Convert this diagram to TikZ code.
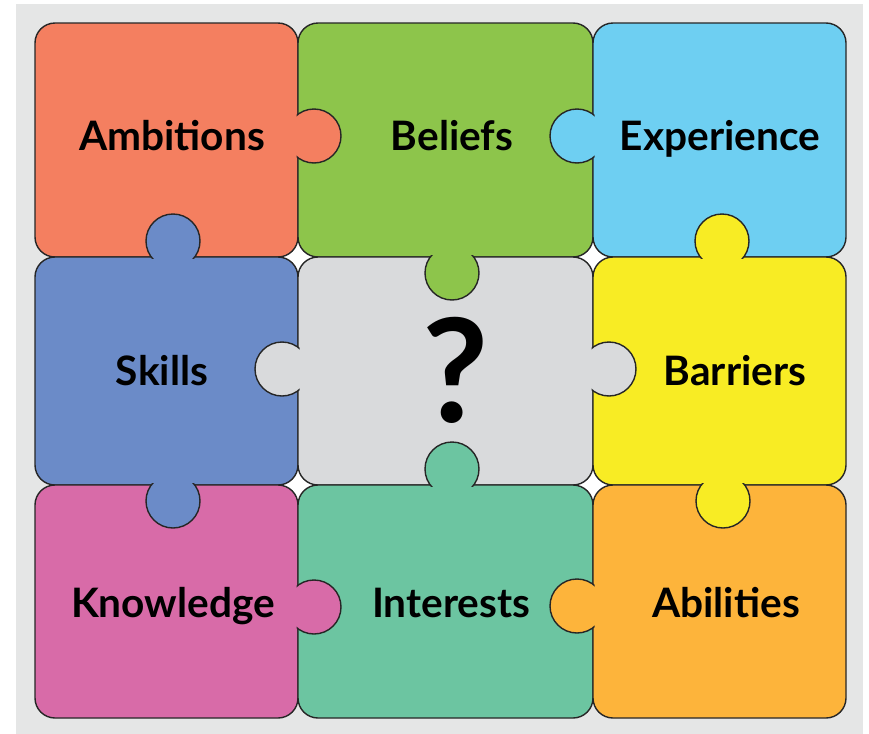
\documentclass[tikz,border=0pt]{standalone}
\usepackage{fontspec}
\setmainfont{Lato}
\definecolor{bggray}{HTML}{E5E6E6}
\definecolor{ambcol}{HTML}{F47F60}
\definecolor{belcol}{HTML}{8DC54B}
\definecolor{expcol}{HTML}{6ECFF2}
\definecolor{skicol}{HTML}{6B8BC8}
\definecolor{quecol}{HTML}{D9DADC}
\definecolor{barcol}{HTML}{F8EC24}
\definecolor{knocol}{HTML}{D86BA8}
\definecolor{intcol}{HTML}{6CC5A1}
\definecolor{abicol}{HTML}{FDB43B}
\tikzset{
	piece/.style={draw=black!85, line width=0.7pt, rounded corners=10pt},
	tab/.style={draw=black!85, line width=0.7pt},
	word/.style={font=\bfseries\fontsize{20.3}{21}\selectfont, anchor=base, inner sep=0pt}
}
\begin{document}
\begin{tikzpicture}[x=0.5pt, y=-0.5pt]
				\useasboundingbox (0,0) rectangle (869,734);
				\fill[bggray] (16,4) rectangle (863,734);
				\fill[white] (280,240) rectangle (611,503);
				\foreach \xa/\ya/\xb/\yb/\col in {35/23/298/257/ambcol, 298/23/593/257/belcol, 593/23/846/257/expcol, 35/257/298/485/skicol, 298/257/593/485/quecol, 593/257/846/485/barcol, 35/485/298/718/knocol, 298/485/593/718/intcol, 593/485/846/718/abicol}
					\draw[piece, fill=\col] (\xa,\ya) rectangle (\xb,\yb);
				\foreach \ex/\ey/\dx/\dy/\col in {298/136/1/0/ambcol, 593/136/-1/0/expcol, 173/257/0/-1/skicol, 452/257/0/1/belcol, 722/257/0/-1/barcol, 298/369/-1/0/quecol, 593/369/1/0/quecol, 173/485/0/1/skicol, 452/485/0/-1/intcol, 723/485/0/1/barcol, 298/607/1/0/knocol, 593/606/-1/0/abicol}
				{
					\begin{scope}
						\clip (\ex-1.5*\dx-40*\dy, \ey-1.5*\dy-40*\dx) rectangle (\ex+60*\dx+40*\dy, \ey+60*\dy+40*\dx);
						\draw[tab, fill=\col] (\ex+16*\dx, \ey+16*\dy) circle (13.5pt);
					\end{scope}
				}
				\node[word] (ambitions) at (172,150) {Ambitions};
				\node[word] (beliefs) at (452,150) {Beliefs};
				\node[word] (experience) at (720,150) {Experience};
				\node[word] (skills) at (162,385) {Skills};
				\node[word, font=\bfseries\fontsize{72}{72}\selectfont] (question) at (456,422) {?};
				\node[word] (barriers) at (735,385) {Barriers};
				\node[word] (knowledge) at (173,617) {Knowledge};
				\node[word] (interests) at (451,617) {Interests};
				\node[word] (abilities) at (726,617) {Abilities};
			\end{tikzpicture}
\end{document}
